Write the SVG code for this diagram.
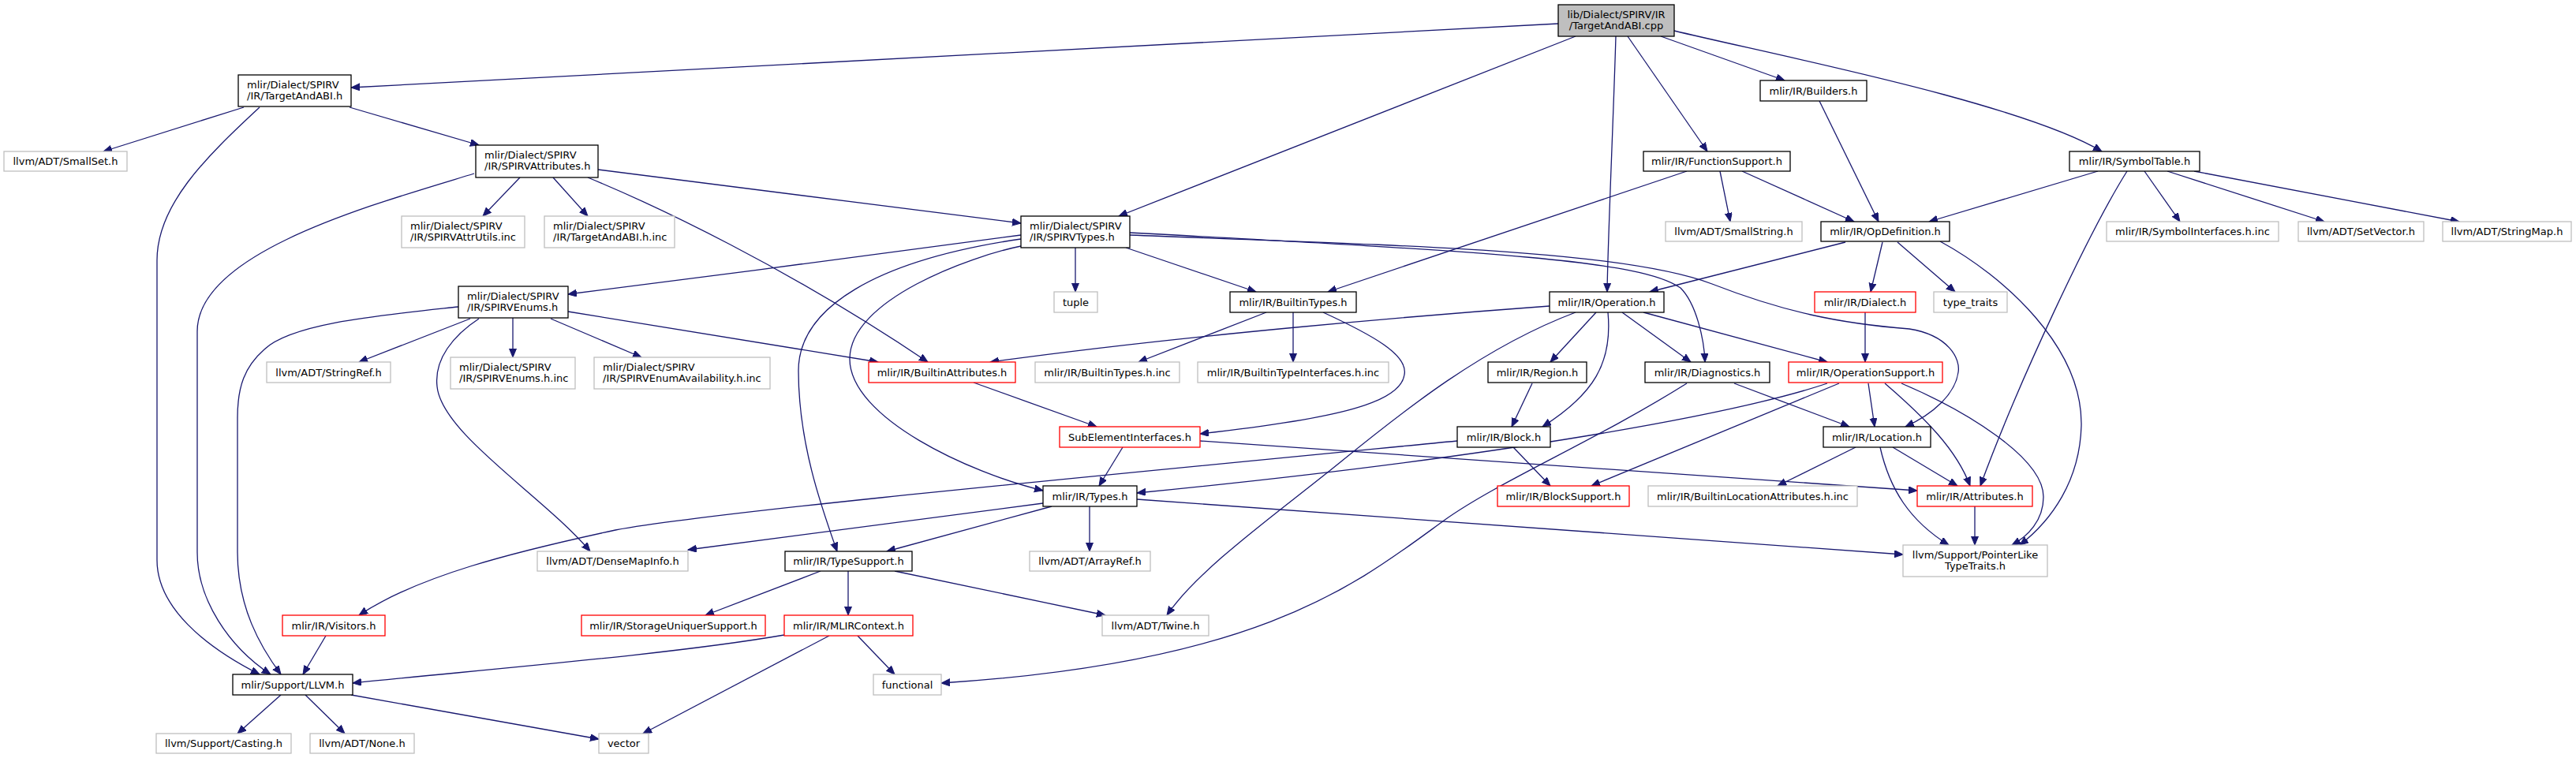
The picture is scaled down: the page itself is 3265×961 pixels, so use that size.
<svg xmlns="http://www.w3.org/2000/svg" width="3265" height="961" viewBox="0 0 3265 961">
<style>
.n rect{fill:#fff;stroke:#000;stroke-width:1.3}
.n.g rect{stroke:#bfbfbf}
.n.r rect{stroke:#ff0000}
.n.root rect{fill:#bfbfbf}
.n text{font-family:"DejaVu Sans","Liberation Sans",sans-serif;font-size:13px;fill:#000;text-anchor:middle}
.n text.l{text-anchor:start}
#edges path{fill:none;stroke:#191970;stroke-width:1.3;marker-end:url(#ah)}
</style>
<defs>
<marker id="ah" markerWidth="12" markerHeight="10" refX="11" refY="4.5" orient="auto" markerUnits="userSpaceOnUse"><path d="M0,0 L11,4.5 L0,9 z" fill="#191970" stroke="#191970" stroke-width="1"/></marker>
</defs>
<rect width="3265" height="961" fill="#fff"/>
<g id="edges">
<path d="M1975,30 L445,111"/>
<path d="M1997,46 L1418,274"/>
<path d="M2048,46 C2045,150 2038,300 2037,370"/>
<path d="M2063,46 L2164,192"/>
<path d="M2105,46 L2262,102"/>
<path d="M2122,39 C2250,70 2560,130 2664,192"/>
<path d="M309,136 L131,192"/>
<path d="M443,136 L607,184"/>
<path d="M329,136 C260,200 199,260 199,330 L199,710 C199,770 260,820 329,855"/>
<path d="M659,225 L612,274"/>
<path d="M701,225 L745,274"/>
<path d="M758,215 L1294,283"/>
<path d="M745,225 C830,260 1000,340 1176,459"/>
<path d="M601,220 C470,260 250,320 250,420 L250,700 C250,760 290,820 343,855"/>
<path d="M1294,298 C1150,318 900,350 720,373"/>
<path d="M1363,314 L1363,370"/>
<path d="M1427,314 L1592,370"/>
<path d="M1294,303 C1110,330 1012,390 1012,470 C1012,560 1040,640 1061,699"/>
<path d="M1294,312 C1230,325 1077,380 1077,455 C1077,530 1230,600 1322,622"/>
<path d="M1432,295 C1900,320 2080,330 2130,365 C2150,385 2160,430 2161,459"/>
<path d="M1432,298 C1800,312 2060,318 2170,360 C2260,395 2330,410 2420,417 C2470,425 2485,455 2482,472 C2478,500 2450,525 2415,541"/>
<path d="M596,404 L455,459"/>
<path d="M650,403 L650,453"/>
<path d="M698,404 L813,453"/>
<path d="M720,395 L1113,459"/>
<path d="M581,389 C480,400 370,410 335,443 C310,465 301,490 301,530 L301,700 C301,770 330,820 356,855"/>
<path d="M607,404 C575,425 550,455 554,490 C560,550 690,630 748,699"/>
<path d="M1605,396 L1443,459"/>
<path d="M1639,396 L1639,459"/>
<path d="M1677,396 C1740,425 1785,450 1780,475 C1775,510 1700,530 1521,550"/>
<path d="M1234,485 L1390,541"/>
<path d="M1423,567 L1393,616"/>
<path d="M1521,559 L2430,622"/>
<path d="M1322,638 L872,697"/>
<path d="M1333,642 L1124,699"/>
<path d="M1381,642 L1381,699"/>
<path d="M1441,633 L2412,703"/>
<path d="M2316,486 C2200,525 1900,580 1441,625"/>
<path d="M1847,559 C1300,612 900,650 780,672 C650,700 530,730 455,780"/>
<path d="M1964,388 C1800,400 1500,425 1255,459"/>
<path d="M2023,396 L1965,459"/>
<path d="M2038,396 C2044,460 2020,500 1955,541"/>
<path d="M2056,396 L2143,459"/>
<path d="M2083,396 L2316,459"/>
<path d="M1997,396 C1880,440 1780,520 1700,585 C1620,650 1520,720 1479,780"/>
<path d="M1942,486 L1916,541"/>
<path d="M1918,567 L1965,616"/>
<path d="M2198,486 L2344,541"/>
<path d="M2138,486 C2020,560 1900,610 1830,660 C1720,740 1600,840 1193,866"/>
<path d="M2331,486 L2017,616"/>
<path d="M2368,486 L2376,541"/>
<path d="M2389,486 C2440,530 2480,570 2497,616"/>
<path d="M2410,486 C2490,520 2590,580 2590,630 C2590,660 2570,680 2550,691"/>
<path d="M2339,307 L2091,370"/>
<path d="M2386,307 L2371,370"/>
<path d="M2405,307 L2478,370"/>
<path d="M2459,306 C2540,350 2640,440 2638,540 C2636,610 2600,660 2560,691"/>
<path d="M2138,217 L1683,370"/>
<path d="M2180,217 L2193,281"/>
<path d="M2208,217 L2350,281"/>
<path d="M2306,128 L2381,281"/>
<path d="M2659,217 L2445,281"/>
<path d="M2696,217 C2650,290 2560,480 2510,616"/>
<path d="M2718,217 L2763,281"/>
<path d="M2747,217 L2946,281"/>
<path d="M2781,217 L3117,281"/>
<path d="M2364,396 L2364,459"/>
<path d="M2352,567 L2253,616"/>
<path d="M2399,567 L2481,616"/>
<path d="M2383,567 C2395,620 2420,660 2470,691"/>
<path d="M2503,642 L2503,691"/>
<path d="M1040,724 L894,780"/>
<path d="M1075,724 L1075,780"/>
<path d="M1134,724 L1401,780"/>
<path d="M994,805 C850,830 600,850 447,866"/>
<path d="M1087,806 L1134,855"/>
<path d="M1051,806 L815,930"/>
<path d="M413,806 L384,855"/>
<path d="M356,881 L301,930"/>
<path d="M387,881 L437,930"/>
<path d="M445,881 L759,937"/>
</g>
<g id="n0" class="n root"><rect x="1975" y="6" width="147" height="40"/><text x="2048.5" y="23">lib/Dialect/SPIRV/IR</text><text x="2048.5" y="37">/TargetAndABI.cpp</text></g>
<g id="n1" class="n"><rect x="302" y="95" width="143" height="40"/><text class="l" x="313" y="112">mlir/Dialect/SPIRV</text><text class="l" x="313" y="126">/IR/TargetAndABI.h</text></g>
<g id="n2" class="n g"><rect x="5" y="192" width="156" height="25"/><text x="83" y="209">llvm/ADT/SmallSet.h</text></g>
<g id="n3" class="n"><rect x="603" y="184" width="155" height="41"/><text class="l" x="614" y="201">mlir/Dialect/SPIRV</text><text class="l" x="614" y="215">/IR/SPIRVAttributes.h</text></g>
<g id="n4" class="n g"><rect x="509" y="274" width="156" height="40"/><text class="l" x="520" y="291">mlir/Dialect/SPIRV</text><text class="l" x="520" y="305">/IR/SPIRVAttrUtils.inc</text></g>
<g id="n5" class="n g"><rect x="690" y="274" width="165" height="40"/><text class="l" x="701" y="291">mlir/Dialect/SPIRV</text><text class="l" x="701" y="305">/IR/TargetAndABI.h.inc</text></g>
<g id="n6" class="n"><rect x="1294" y="274" width="138" height="40"/><text class="l" x="1305" y="291">mlir/Dialect/SPIRV</text><text class="l" x="1305" y="305">/IR/SPIRVTypes.h</text></g>
<g id="n7" class="n"><rect x="2231" y="102" width="135" height="26"/><text x="2298.5" y="119.5">mlir/IR/Builders.h</text></g>
<g id="n8" class="n"><rect x="2083" y="192" width="186" height="25"/><text x="2176" y="209">mlir/IR/FunctionSupport.h</text></g>
<g id="n9" class="n g"><rect x="2111" y="281" width="173" height="25"/><text x="2197.5" y="298">llvm/ADT/SmallString.h</text></g>
<g id="n10" class="n"><rect x="2308" y="281" width="163" height="25"/><text x="2389.5" y="298">mlir/IR/OpDefinition.h</text></g>
<g id="n11" class="n"><rect x="2623" y="192" width="165" height="25"/><text x="2705.5" y="209">mlir/IR/SymbolTable.h</text></g>
<g id="n12" class="n g"><rect x="2670" y="281" width="218" height="25"/><text x="2779" y="298">mlir/IR/SymbolInterfaces.h.inc</text></g>
<g id="n13" class="n g"><rect x="2913" y="281" width="159" height="25"/><text x="2992.5" y="298">llvm/ADT/SetVector.h</text></g>
<g id="n14" class="n g"><rect x="3096" y="281" width="163" height="25"/><text x="3177.5" y="298">llvm/ADT/StringMap.h</text></g>
<g id="n15" class="n"><rect x="581" y="363" width="139" height="40"/><text class="l" x="592" y="380">mlir/Dialect/SPIRV</text><text class="l" x="592" y="394">/IR/SPIRVEnums.h</text></g>
<g id="n16" class="n g"><rect x="338" y="459" width="157" height="26"/><text x="416.5" y="476.5">llvm/ADT/StringRef.h</text></g>
<g id="n17" class="n g"><rect x="571" y="453" width="158" height="40"/><text class="l" x="582" y="470">mlir/Dialect/SPIRV</text><text class="l" x="582" y="484">/IR/SPIRVEnums.h.inc</text></g>
<g id="n18" class="n g"><rect x="753" y="453" width="223" height="40"/><text class="l" x="764" y="470">mlir/Dialect/SPIRV</text><text class="l" x="764" y="484">/IR/SPIRVEnumAvailability.h.inc</text></g>
<g id="n19" class="n g"><rect x="1336" y="370" width="55" height="26"/><text x="1363.5" y="387.5">tuple</text></g>
<g id="n20" class="n"><rect x="1559" y="370" width="160" height="26"/><text x="1639" y="387.5">mlir/IR/BuiltinTypes.h</text></g>
<g id="n21" class="n r"><rect x="1101" y="459" width="186" height="26"/><text x="1194" y="476.5">mlir/IR/BuiltinAttributes.h</text></g>
<g id="n22" class="n g"><rect x="1312" y="459" width="183" height="26"/><text x="1403.5" y="476.5">mlir/IR/BuiltinTypes.h.inc</text></g>
<g id="n23" class="n g"><rect x="1518" y="459" width="242" height="26"/><text x="1639" y="476.5">mlir/IR/BuiltinTypeInterfaces.h.inc</text></g>
<g id="n24" class="n r"><rect x="1343" y="541" width="178" height="26"/><text x="1432" y="558.5">SubElementInterfaces.h</text></g>
<g id="n25" class="n"><rect x="1322" y="616" width="119" height="26"/><text x="1381.5" y="633.5">mlir/IR/Types.h</text></g>
<g id="n26" class="n"><rect x="1964" y="370" width="145" height="26"/><text x="2036.5" y="387.5">mlir/IR/Operation.h</text></g>
<g id="n27" class="n r"><rect x="2300" y="370" width="128" height="26"/><text x="2364" y="387.5">mlir/IR/Dialect.h</text></g>
<g id="n28" class="n"><rect x="1886" y="459" width="125" height="26"/><text x="1948.5" y="476.5">mlir/IR/Region.h</text></g>
<g id="n29" class="n"><rect x="2085" y="459" width="158" height="26"/><text x="2164" y="476.5">mlir/IR/Diagnostics.h</text></g>
<g id="n30" class="n r"><rect x="2267" y="459" width="195" height="26"/><text x="2364.5" y="476.5">mlir/IR/OperationSupport.h</text></g>
<g id="n31" class="n"><rect x="1847" y="541" width="118" height="26"/><text x="1906" y="558.5">mlir/IR/Block.h</text></g>
<g id="n32" class="n"><rect x="2311" y="541" width="136" height="26"/><text x="2379" y="558.5">mlir/IR/Location.h</text></g>
<g id="n33" class="n r"><rect x="1898" y="616" width="167" height="26"/><text x="1981.5" y="633.5">mlir/IR/BlockSupport.h</text></g>
<g id="n34" class="n g"><rect x="2089" y="616" width="265" height="26"/><text x="2221.5" y="633.5">mlir/IR/BuiltinLocationAttributes.h.inc</text></g>
<g id="n35" class="n g"><rect x="2451" y="370" width="93" height="26"/><text x="2497.5" y="387.5">type_traits</text></g>
<g id="n36" class="n r"><rect x="2430" y="616" width="146" height="26"/><text x="2503" y="633.5">mlir/IR/Attributes.h</text></g>
<g id="n37" class="n g"><rect x="2412" y="691" width="183" height="40"/><text x="2503.5" y="708">llvm/Support/PointerLike</text><text x="2503.5" y="722">TypeTraits.h</text></g>
<g id="n38" class="n g"><rect x="681" y="699" width="191" height="25"/><text x="776.5" y="716">llvm/ADT/DenseMapInfo.h</text></g>
<g id="n39" class="n r"><rect x="358" y="780" width="130" height="26"/><text x="423" y="797.5">mlir/IR/Visitors.h</text></g>
<g id="n40" class="n r"><rect x="737" y="780" width="233" height="26"/><text x="853.5" y="797.5">mlir/IR/StorageUniquerSupport.h</text></g>
<g id="n41" class="n"><rect x="295" y="855" width="152" height="26"/><text x="371" y="872.5">mlir/Support/LLVM.h</text></g>
<g id="n42" class="n g"><rect x="198" y="930" width="171" height="25"/><text x="283.5" y="947">llvm/Support/Casting.h</text></g>
<g id="n43" class="n g"><rect x="393" y="930" width="132" height="25"/><text x="459" y="947">llvm/ADT/None.h</text></g>
<g id="n44" class="n g"><rect x="759" y="930" width="63" height="25"/><text x="790.5" y="947">vector</text></g>
<g id="n45" class="n"><rect x="995" y="699" width="161" height="25"/><text x="1075.5" y="716">mlir/IR/TypeSupport.h</text></g>
<g id="n46" class="n g"><rect x="1305" y="699" width="153" height="25"/><text x="1381.5" y="716">llvm/ADT/ArrayRef.h</text></g>
<g id="n47" class="n r"><rect x="994" y="780" width="163" height="26"/><text x="1075.5" y="797.5">mlir/IR/MLIRContext.h</text></g>
<g id="n48" class="n g"><rect x="1397" y="780" width="135" height="26"/><text x="1464.5" y="797.5">llvm/ADT/Twine.h</text></g>
<g id="n49" class="n g"><rect x="1107" y="855" width="86" height="26"/><text x="1150" y="872.5">functional</text></g>
</svg>
